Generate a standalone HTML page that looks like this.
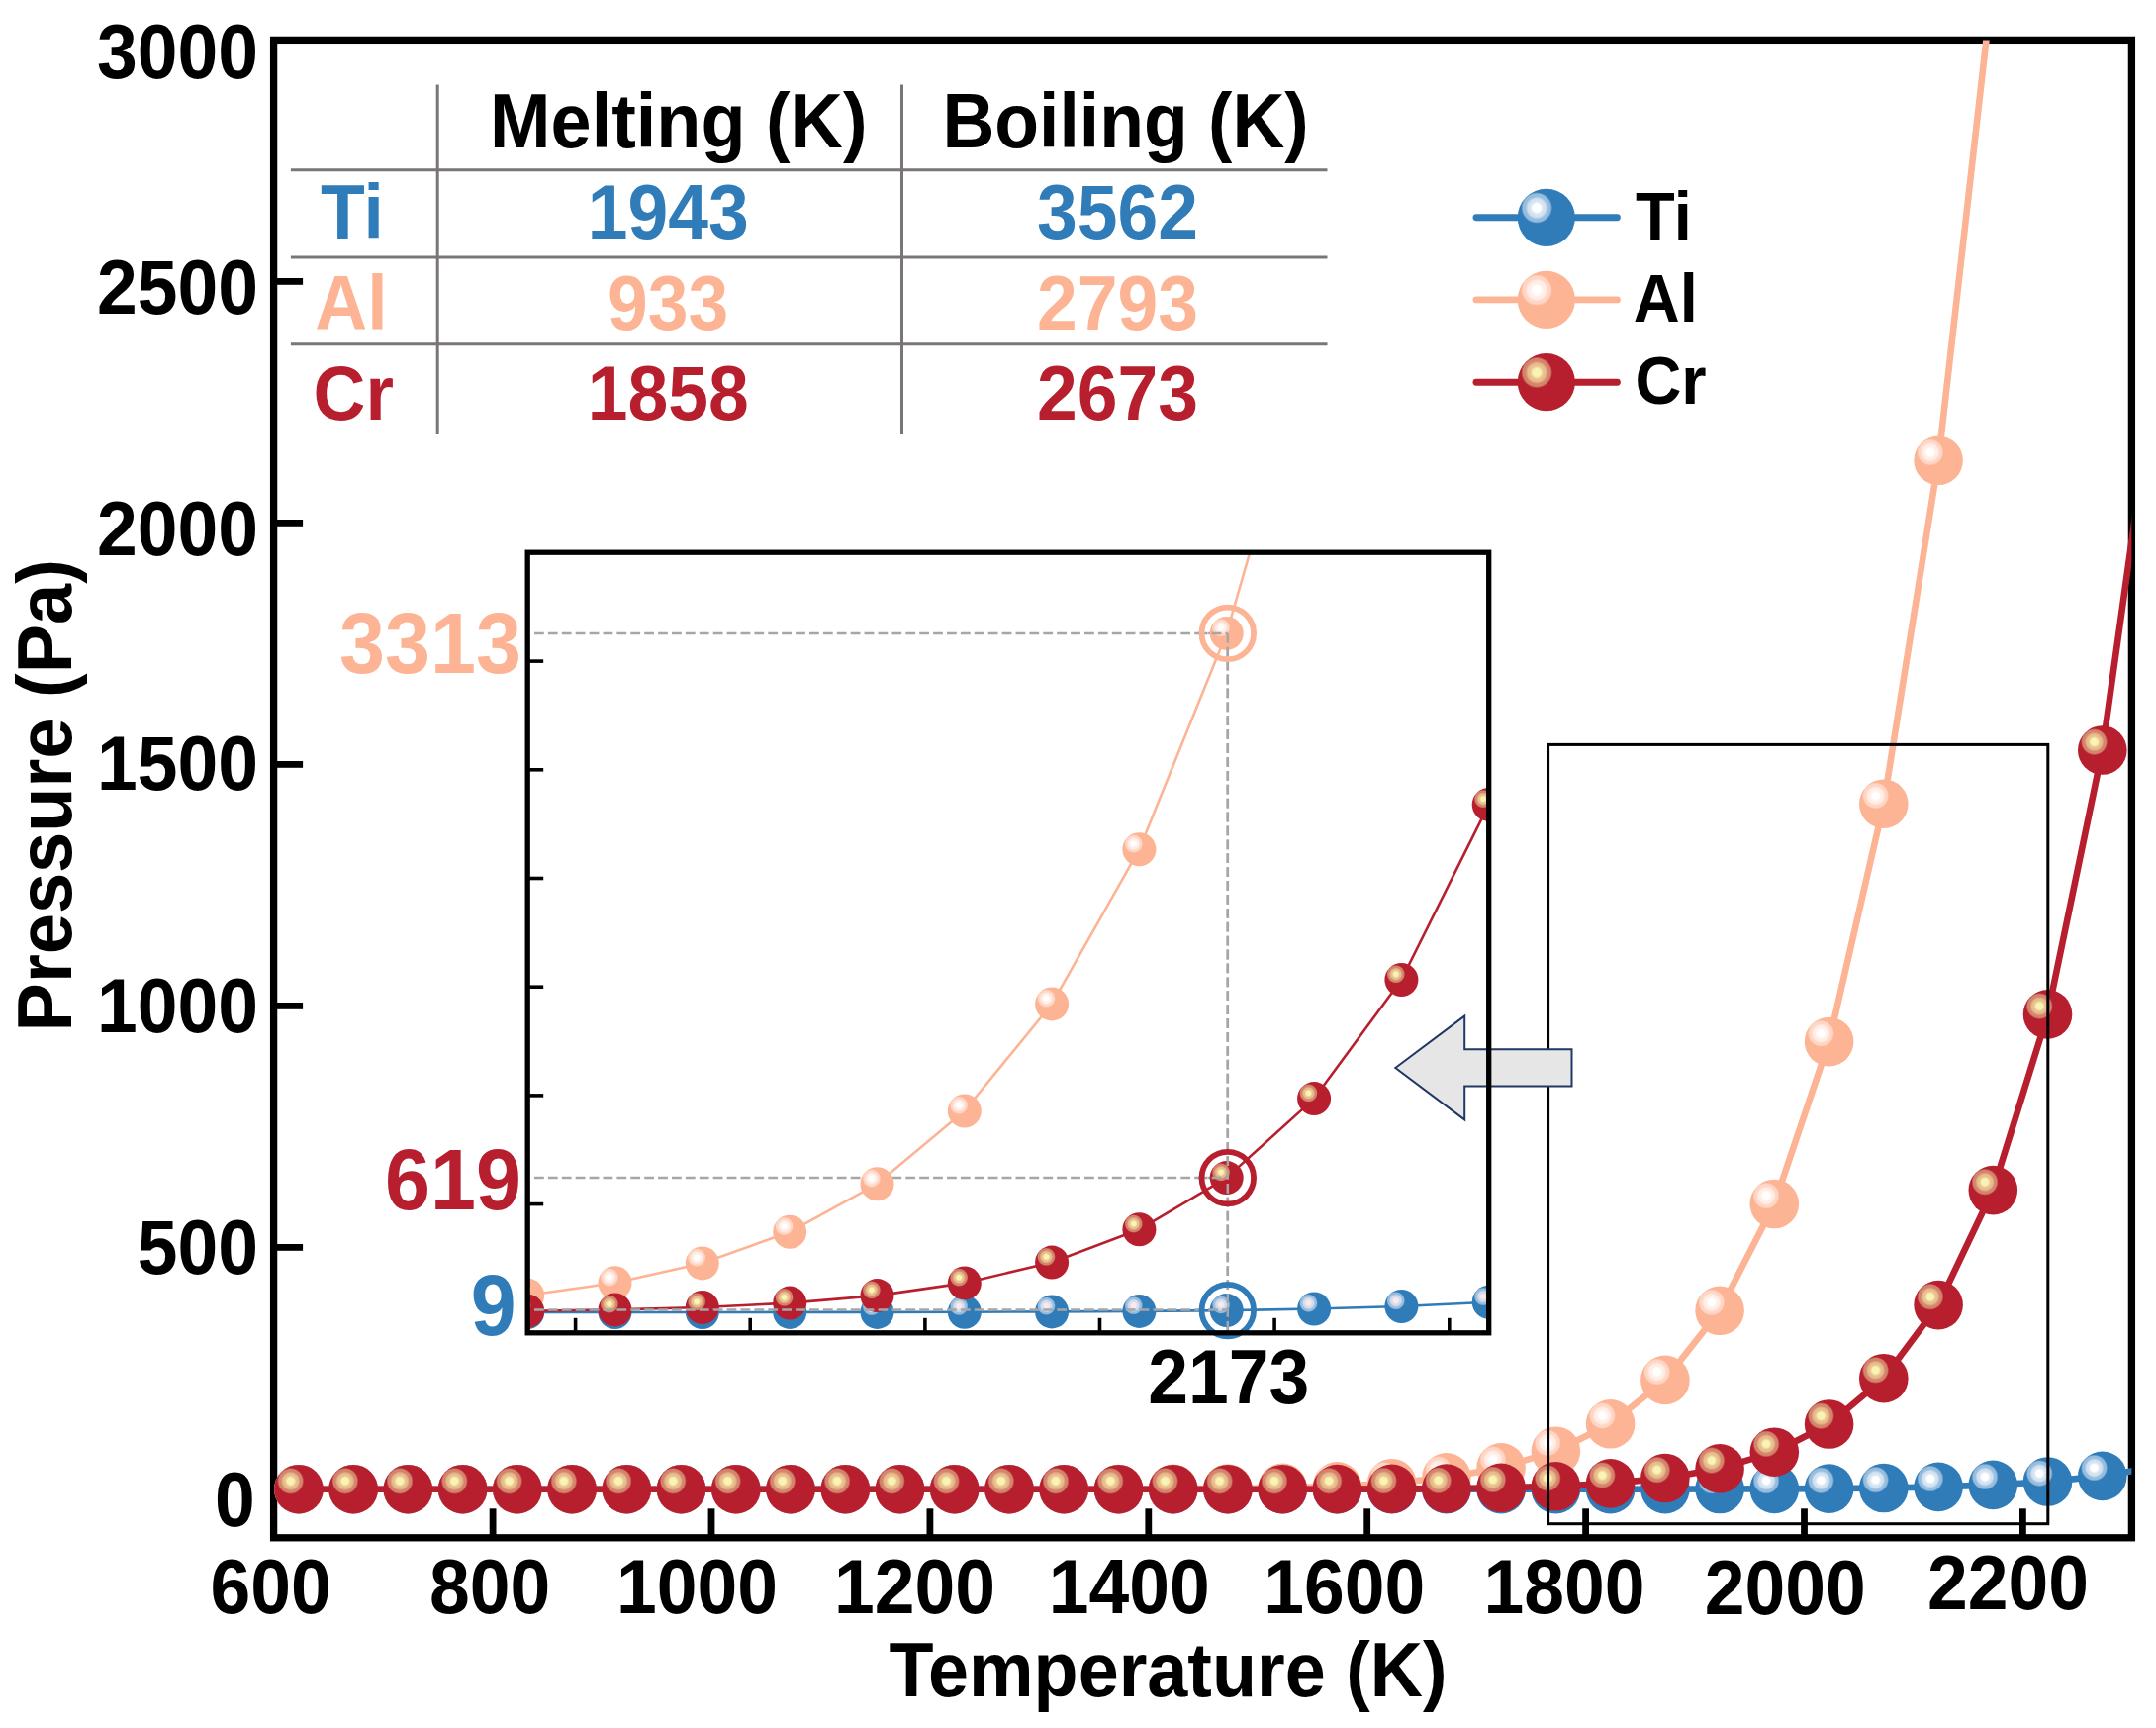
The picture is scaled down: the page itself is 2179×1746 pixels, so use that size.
<!DOCTYPE html>
<html lang="en"><head><meta charset="utf-8"><title>Vapour pressure of Ti, Al and Cr</title>
<style>html,body{margin:0;padding:0;background:#fff}body{width:2179px;height:1746px;overflow:hidden}svg{display:block;filter:blur(0.55px)}text{font-family:"Liberation Sans",Arial,Helvetica,sans-serif;font-weight:bold}</style></head><body>
<svg width="2179" height="1746" viewBox="0 0 2179 1746">
<defs>
<radialGradient id="gTi" cx="0.334" cy="0.332" r="0.272" fx="0.334" fy="0.332"><stop offset="0" stop-color="#ffffff"/><stop offset="0.24" stop-color="#ffffff"/><stop offset="0.44" stop-color="#d3e3f1"/><stop offset="0.56" stop-color="#d3e3f1"/><stop offset="0.74" stop-color="#96bcde"/><stop offset="0.88" stop-color="#96bcde"/><stop offset="1" stop-color="#2f7cb9"/></radialGradient>
<radialGradient id="gAl" cx="0.334" cy="0.332" r="0.272" fx="0.334" fy="0.332"><stop offset="0" stop-color="#ffffff"/><stop offset="0.24" stop-color="#ffffff"/><stop offset="0.44" stop-color="#ffeee7"/><stop offset="0.56" stop-color="#ffeee7"/><stop offset="0.74" stop-color="#fed6c5"/><stop offset="0.88" stop-color="#fed6c5"/><stop offset="1" stop-color="#fcb494"/></radialGradient>
<radialGradient id="gCr" cx="0.334" cy="0.332" r="0.272" fx="0.334" fy="0.332"><stop offset="0" stop-color="#f8f4b4"/><stop offset="0.24" stop-color="#f8f4b4"/><stop offset="0.44" stop-color="#e9bd8c"/><stop offset="0.56" stop-color="#e9bd8c"/><stop offset="0.74" stop-color="#d2846c"/><stop offset="0.88" stop-color="#d2846c"/><stop offset="1" stop-color="#b81f2e"/></radialGradient>
<radialGradient id="gTiI" cx="0.334" cy="0.332" r="0.272" fx="0.334" fy="0.332"><stop offset="0" stop-color="#fbeaea"/><stop offset="0.24" stop-color="#fbeaea"/><stop offset="0.44" stop-color="#d3dcec"/><stop offset="0.56" stop-color="#d3dcec"/><stop offset="0.74" stop-color="#96bcde"/><stop offset="0.88" stop-color="#96bcde"/><stop offset="1" stop-color="#2f7cb9"/></radialGradient>
<clipPath id="cm"><rect x="276.6" y="40.4" width="1877.8" height="1513.4"/></clipPath>
<clipPath id="ci"><rect x="533.2" y="558.2" width="971.5" height="788.6"/></clipPath>
</defs>
<rect width="2179" height="1746" fill="#ffffff"/>
<g stroke="#000" stroke-width="7.3" fill="none">
<rect x="276.6" y="40.4" width="1877.8" height="1513.4"/>
<g stroke-width="6.8">
<line x1="276.6" y1="1260.4" x2="306.1" y2="1260.4"/>
<line x1="276.6" y1="1016.4" x2="306.1" y2="1016.4"/>
<line x1="276.6" y1="772.4" x2="306.1" y2="772.4"/>
<line x1="276.6" y1="528.4" x2="306.1" y2="528.4"/>
<line x1="276.6" y1="284.4" x2="306.1" y2="284.4"/>
<line x1="498.1" y1="1553.8" x2="498.1" y2="1524.3"/>
<line x1="719.0" y1="1553.8" x2="719.0" y2="1524.3"/>
<line x1="939.9" y1="1553.8" x2="939.9" y2="1524.3"/>
<line x1="1160.8" y1="1553.8" x2="1160.8" y2="1524.3"/>
<line x1="1381.7" y1="1553.8" x2="1381.7" y2="1524.3"/>
<line x1="1602.6" y1="1553.8" x2="1602.6" y2="1524.3"/>
<line x1="1823.5" y1="1553.8" x2="1823.5" y2="1524.3"/>
<line x1="2044.4" y1="1553.8" x2="2044.4" y2="1524.3"/>
</g></g>
<g clip-path="url(#cm)">
<polyline fill="none" stroke="#2f7cb9" stroke-width="6.6" stroke-linejoin="round" points="301.9,1504.7 357.1,1504.7 412.3,1504.7 467.6,1504.7 522.8,1504.7 578.1,1504.7 633.3,1504.7 688.5,1504.7 743.8,1504.7 799.0,1504.7 854.3,1504.7 909.5,1504.7 964.7,1504.7 1020.0,1504.7 1075.2,1504.7 1130.5,1504.7 1185.7,1504.7 1240.9,1504.7 1296.2,1504.7 1351.4,1504.7 1406.7,1504.7 1461.9,1504.7 1517.1,1504.7 1572.4,1504.7 1627.6,1504.7 1682.9,1504.6 1738.1,1504.5 1793.3,1504.4 1848.6,1504.1 1903.8,1503.5 1959.1,1502.4 2014.3,1500.4 2069.5,1497.0 2124.8,1491.4 2180.0,1482.0 2235.3,1467.0"/>
<circle cx="301.9" cy="1504.7" r="24.8" fill="url(#gTi)"/>
<circle cx="357.1" cy="1504.7" r="24.8" fill="url(#gTi)"/>
<circle cx="412.3" cy="1504.7" r="24.8" fill="url(#gTi)"/>
<circle cx="467.6" cy="1504.7" r="24.8" fill="url(#gTi)"/>
<circle cx="522.8" cy="1504.7" r="24.8" fill="url(#gTi)"/>
<circle cx="578.1" cy="1504.7" r="24.8" fill="url(#gTi)"/>
<circle cx="633.3" cy="1504.7" r="24.8" fill="url(#gTi)"/>
<circle cx="688.5" cy="1504.7" r="24.8" fill="url(#gTi)"/>
<circle cx="743.8" cy="1504.7" r="24.8" fill="url(#gTi)"/>
<circle cx="799.0" cy="1504.7" r="24.8" fill="url(#gTi)"/>
<circle cx="854.3" cy="1504.7" r="24.8" fill="url(#gTi)"/>
<circle cx="909.5" cy="1504.7" r="24.8" fill="url(#gTi)"/>
<circle cx="964.7" cy="1504.7" r="24.8" fill="url(#gTi)"/>
<circle cx="1020.0" cy="1504.7" r="24.8" fill="url(#gTi)"/>
<circle cx="1075.2" cy="1504.7" r="24.8" fill="url(#gTi)"/>
<circle cx="1130.5" cy="1504.7" r="24.8" fill="url(#gTi)"/>
<circle cx="1185.7" cy="1504.7" r="24.8" fill="url(#gTi)"/>
<circle cx="1240.9" cy="1504.7" r="24.8" fill="url(#gTi)"/>
<circle cx="1296.2" cy="1504.7" r="24.8" fill="url(#gTi)"/>
<circle cx="1351.4" cy="1504.7" r="24.8" fill="url(#gTi)"/>
<circle cx="1406.7" cy="1504.7" r="24.8" fill="url(#gTi)"/>
<circle cx="1461.9" cy="1504.7" r="24.8" fill="url(#gTi)"/>
<circle cx="1517.1" cy="1504.7" r="24.8" fill="url(#gTi)"/>
<circle cx="1572.4" cy="1504.7" r="24.8" fill="url(#gTi)"/>
<circle cx="1627.6" cy="1504.7" r="24.8" fill="url(#gTi)"/>
<circle cx="1682.9" cy="1504.6" r="24.8" fill="url(#gTi)"/>
<circle cx="1738.1" cy="1504.5" r="24.8" fill="url(#gTi)"/>
<circle cx="1793.3" cy="1504.4" r="24.8" fill="url(#gTi)"/>
<circle cx="1848.6" cy="1504.1" r="24.8" fill="url(#gTi)"/>
<circle cx="1903.8" cy="1503.5" r="24.8" fill="url(#gTi)"/>
<circle cx="1959.1" cy="1502.4" r="24.8" fill="url(#gTi)"/>
<circle cx="2014.3" cy="1500.4" r="24.8" fill="url(#gTi)"/>
<circle cx="2069.5" cy="1497.0" r="24.8" fill="url(#gTi)"/>
<circle cx="2124.8" cy="1491.4" r="24.8" fill="url(#gTi)"/>
<circle cx="2180.0" cy="1482.0" r="24.8" fill="url(#gTi)"/>
<circle cx="2235.3" cy="1467.0" r="24.8" fill="url(#gTi)"/>
</g>
<g clip-path="url(#cm)">
<polyline fill="none" stroke="#fcb494" stroke-width="6.6" stroke-linejoin="round" points="301.9,1504.7 357.1,1504.7 412.3,1504.7 467.6,1504.7 522.8,1504.7 578.1,1504.7 633.3,1504.7 688.5,1504.7 743.8,1504.7 799.0,1504.7 854.3,1504.7 909.5,1504.7 964.7,1504.7 1020.0,1504.7 1075.2,1504.7 1130.5,1504.6 1185.7,1504.4 1240.9,1504.1 1296.2,1503.4 1351.4,1501.9 1406.7,1498.7 1461.9,1492.9 1517.1,1482.9 1572.4,1466.2 1627.6,1438.8 1682.9,1394.4 1738.1,1324.3 1793.3,1216.5 1848.6,1052.6 1903.8,812.2 1959.1,465.3 2014.3,-20.1 2069.5,-703.3 2124.8,-1641.4 2180.0,-2910.4 2235.3,-4603.6"/>
<circle cx="301.9" cy="1504.7" r="24.8" fill="url(#gAl)"/>
<circle cx="357.1" cy="1504.7" r="24.8" fill="url(#gAl)"/>
<circle cx="412.3" cy="1504.7" r="24.8" fill="url(#gAl)"/>
<circle cx="467.6" cy="1504.7" r="24.8" fill="url(#gAl)"/>
<circle cx="522.8" cy="1504.7" r="24.8" fill="url(#gAl)"/>
<circle cx="578.1" cy="1504.7" r="24.8" fill="url(#gAl)"/>
<circle cx="633.3" cy="1504.7" r="24.8" fill="url(#gAl)"/>
<circle cx="688.5" cy="1504.7" r="24.8" fill="url(#gAl)"/>
<circle cx="743.8" cy="1504.7" r="24.8" fill="url(#gAl)"/>
<circle cx="799.0" cy="1504.7" r="24.8" fill="url(#gAl)"/>
<circle cx="854.3" cy="1504.7" r="24.8" fill="url(#gAl)"/>
<circle cx="909.5" cy="1504.7" r="24.8" fill="url(#gAl)"/>
<circle cx="964.7" cy="1504.7" r="24.8" fill="url(#gAl)"/>
<circle cx="1020.0" cy="1504.7" r="24.8" fill="url(#gAl)"/>
<circle cx="1075.2" cy="1504.7" r="24.8" fill="url(#gAl)"/>
<circle cx="1130.5" cy="1504.6" r="24.8" fill="url(#gAl)"/>
<circle cx="1185.7" cy="1504.4" r="24.8" fill="url(#gAl)"/>
<circle cx="1240.9" cy="1504.1" r="24.8" fill="url(#gAl)"/>
<circle cx="1296.2" cy="1503.4" r="24.8" fill="url(#gAl)"/>
<circle cx="1351.4" cy="1501.9" r="24.8" fill="url(#gAl)"/>
<circle cx="1406.7" cy="1498.7" r="24.8" fill="url(#gAl)"/>
<circle cx="1461.9" cy="1492.9" r="24.8" fill="url(#gAl)"/>
<circle cx="1517.1" cy="1482.9" r="24.8" fill="url(#gAl)"/>
<circle cx="1572.4" cy="1466.2" r="24.8" fill="url(#gAl)"/>
<circle cx="1627.6" cy="1438.8" r="24.8" fill="url(#gAl)"/>
<circle cx="1682.9" cy="1394.4" r="24.8" fill="url(#gAl)"/>
<circle cx="1738.1" cy="1324.3" r="24.8" fill="url(#gAl)"/>
<circle cx="1793.3" cy="1216.5" r="24.8" fill="url(#gAl)"/>
<circle cx="1848.6" cy="1052.6" r="24.8" fill="url(#gAl)"/>
<circle cx="1903.8" cy="812.2" r="24.8" fill="url(#gAl)"/>
<circle cx="1959.1" cy="465.3" r="24.8" fill="url(#gAl)"/>
<circle cx="2014.3" cy="-20.1" r="24.8" fill="url(#gAl)"/>
</g>
<g clip-path="url(#cm)">
<polyline fill="none" stroke="#b81f2e" stroke-width="6.6" stroke-linejoin="round" points="301.9,1504.7 357.1,1504.7 412.3,1504.7 467.6,1504.7 522.8,1504.7 578.1,1504.7 633.3,1504.7 688.5,1504.7 743.8,1504.7 799.0,1504.7 854.3,1504.7 909.5,1504.7 964.7,1504.7 1020.0,1504.7 1075.2,1504.7 1130.5,1504.7 1185.7,1504.7 1240.9,1504.7 1296.2,1504.7 1351.4,1504.6 1406.7,1504.4 1461.9,1504.1 1517.1,1503.3 1572.4,1501.8 1627.6,1498.9 1682.9,1493.5 1738.1,1483.9 1793.3,1467.2 1848.6,1439.0 1903.8,1392.7 1959.1,1318.6 2014.3,1202.6 2069.5,1024.9 2124.8,758.0 2180.0,364.6 2235.3,-205.5"/>
<circle cx="301.9" cy="1504.7" r="24.8" fill="url(#gCr)"/>
<circle cx="357.1" cy="1504.7" r="24.8" fill="url(#gCr)"/>
<circle cx="412.3" cy="1504.7" r="24.8" fill="url(#gCr)"/>
<circle cx="467.6" cy="1504.7" r="24.8" fill="url(#gCr)"/>
<circle cx="522.8" cy="1504.7" r="24.8" fill="url(#gCr)"/>
<circle cx="578.1" cy="1504.7" r="24.8" fill="url(#gCr)"/>
<circle cx="633.3" cy="1504.7" r="24.8" fill="url(#gCr)"/>
<circle cx="688.5" cy="1504.7" r="24.8" fill="url(#gCr)"/>
<circle cx="743.8" cy="1504.7" r="24.8" fill="url(#gCr)"/>
<circle cx="799.0" cy="1504.7" r="24.8" fill="url(#gCr)"/>
<circle cx="854.3" cy="1504.7" r="24.8" fill="url(#gCr)"/>
<circle cx="909.5" cy="1504.7" r="24.8" fill="url(#gCr)"/>
<circle cx="964.7" cy="1504.7" r="24.8" fill="url(#gCr)"/>
<circle cx="1020.0" cy="1504.7" r="24.8" fill="url(#gCr)"/>
<circle cx="1075.2" cy="1504.7" r="24.8" fill="url(#gCr)"/>
<circle cx="1130.5" cy="1504.7" r="24.8" fill="url(#gCr)"/>
<circle cx="1185.7" cy="1504.7" r="24.8" fill="url(#gCr)"/>
<circle cx="1240.9" cy="1504.7" r="24.8" fill="url(#gCr)"/>
<circle cx="1296.2" cy="1504.7" r="24.8" fill="url(#gCr)"/>
<circle cx="1351.4" cy="1504.6" r="24.8" fill="url(#gCr)"/>
<circle cx="1406.7" cy="1504.4" r="24.8" fill="url(#gCr)"/>
<circle cx="1461.9" cy="1504.1" r="24.8" fill="url(#gCr)"/>
<circle cx="1517.1" cy="1503.3" r="24.8" fill="url(#gCr)"/>
<circle cx="1572.4" cy="1501.8" r="24.8" fill="url(#gCr)"/>
<circle cx="1627.6" cy="1498.9" r="24.8" fill="url(#gCr)"/>
<circle cx="1682.9" cy="1493.5" r="24.8" fill="url(#gCr)"/>
<circle cx="1738.1" cy="1483.9" r="24.8" fill="url(#gCr)"/>
<circle cx="1793.3" cy="1467.2" r="24.8" fill="url(#gCr)"/>
<circle cx="1848.6" cy="1439.0" r="24.8" fill="url(#gCr)"/>
<circle cx="1903.8" cy="1392.7" r="24.8" fill="url(#gCr)"/>
<circle cx="1959.1" cy="1318.6" r="24.8" fill="url(#gCr)"/>
<circle cx="2014.3" cy="1202.6" r="24.8" fill="url(#gCr)"/>
<circle cx="2069.5" cy="1024.9" r="24.8" fill="url(#gCr)"/>
<circle cx="2124.8" cy="758.0" r="24.8" fill="url(#gCr)"/>
<circle cx="2180.0" cy="364.6" r="24.8" fill="url(#gCr)"/>
<circle cx="2235.3" cy="-205.5" r="24.8" fill="url(#gCr)"/>
</g>
<text transform="translate(261.0,79.0) scale(0.948,1)" font-size="77.3" text-anchor="end" fill="#000">3000</text>
<text transform="translate(261.0,317.2) scale(0.948,1)" font-size="77.3" text-anchor="end" fill="#000">2500</text>
<text transform="translate(261.0,560.7) scale(0.948,1)" font-size="77.3" text-anchor="end" fill="#000">2000</text>
<text transform="translate(261.0,798.2) scale(0.948,1)" font-size="77.3" text-anchor="end" fill="#000">1500</text>
<text transform="translate(261.0,1042.7) scale(0.948,1)" font-size="77.3" text-anchor="end" fill="#000">1000</text>
<text transform="translate(261.0,1286.5) scale(0.948,1)" font-size="77.3" text-anchor="end" fill="#000">500</text>
<text transform="translate(257.8,1542.4) scale(0.948,1)" font-size="77.3" text-anchor="end" fill="#000">0</text>
<text transform="translate(273.6,1630.0) scale(0.948,1)" font-size="77.3" text-anchor="middle" fill="#000">600</text>
<text transform="translate(495.1,1630.0) scale(0.948,1)" font-size="77.3" text-anchor="middle" fill="#000">800</text>
<text transform="translate(704.6,1630.0) scale(0.948,1)" font-size="77.3" text-anchor="middle" fill="#000">1000</text>
<text transform="translate(924.4,1630.0) scale(0.948,1)" font-size="77.3" text-anchor="middle" fill="#000">1200</text>
<text transform="translate(1141.3,1630.0) scale(0.948,1)" font-size="77.3" text-anchor="middle" fill="#000">1400</text>
<text transform="translate(1358.7,1630.0) scale(0.948,1)" font-size="77.3" text-anchor="middle" fill="#000">1600</text>
<text transform="translate(1580.9,1630.0) scale(0.948,1)" font-size="77.3" text-anchor="middle" fill="#000">1800</text>
<text transform="translate(1804.2,1631.0) scale(0.948,1)" font-size="77.3" text-anchor="middle" fill="#000">2000</text>
<text transform="translate(2029.5,1626.3) scale(0.948,1)" font-size="77.3" text-anchor="middle" fill="#000">2200</text>
<text transform="translate(1180.5,1713.6) scale(0.948,1)" font-size="77.8" text-anchor="middle" fill="#000">Temperature (K)</text>
<text transform="translate(72.2,803.8) rotate(-90) scale(0.948,1)" font-size="78.1" text-anchor="middle" fill="#000">Pressure (Pa)</text>
<g stroke="#7a7676" stroke-width="3.0" fill="none">
<line x1="442.2" y1="85.6" x2="442.2" y2="439"/>
<line x1="911.5" y1="85.6" x2="911.5" y2="439"/>
<line x1="293.9" y1="171.8" x2="1341.5" y2="171.8"/>
<line x1="293.9" y1="260.1" x2="1341.5" y2="260.1"/>
<line x1="293.9" y1="347.8" x2="1341.5" y2="347.8"/>
</g>
<text transform="translate(685.8,148.5) scale(0.948,1)" font-size="77.9" text-anchor="middle" fill="#000">Melting (K)</text>
<text transform="translate(1137.6,148.5) scale(0.948,1)" font-size="77.3" text-anchor="middle" fill="#000">Boiling (K)</text>
<text transform="translate(356.0,240.9) scale(0.948,1)" font-size="77.3" text-anchor="middle" fill="#2f7cb9">Ti</text>
<text transform="translate(675.2,240.9) scale(0.948,1)" font-size="77.3" text-anchor="middle" fill="#2f7cb9">1943</text>
<text transform="translate(1129.5,240.9) scale(0.948,1)" font-size="77.3" text-anchor="middle" fill="#2f7cb9">3562</text>
<text transform="translate(355.0,332.5) scale(0.948,1)" font-size="77.3" text-anchor="middle" fill="#fcb494">Al</text>
<text transform="translate(675.2,332.5) scale(0.948,1)" font-size="77.3" text-anchor="middle" fill="#fcb494">933</text>
<text transform="translate(1129.5,332.5) scale(0.948,1)" font-size="77.3" text-anchor="middle" fill="#fcb494">2793</text>
<text transform="translate(357.2,424.0) scale(0.948,1)" font-size="77.3" text-anchor="middle" fill="#b81f2e">Cr</text>
<text transform="translate(675.2,424.0) scale(0.948,1)" font-size="77.3" text-anchor="middle" fill="#b81f2e">1858</text>
<text transform="translate(1129.5,424.0) scale(0.948,1)" font-size="77.3" text-anchor="middle" fill="#b81f2e">2673</text>
<line x1="1492" y1="219.8" x2="1634.4" y2="219.8" stroke="#2f7cb9" stroke-width="6.9" stroke-linecap="round"/>
<circle cx="1562.8" cy="219.8" r="29.1" fill="url(#gTi)"/>
<text transform="translate(1653.1,241.7) scale(0.948,1)" font-size="68.6" text-anchor="start" fill="#000">Ti</text>
<line x1="1492" y1="302.9" x2="1634.4" y2="302.9" stroke="#fcb494" stroke-width="6.9" stroke-linecap="round"/>
<circle cx="1562.8" cy="302.9" r="29.1" fill="url(#gAl)"/>
<text transform="translate(1650.8,325.0) scale(0.948,1)" font-size="68.6" text-anchor="start" fill="#000">Al</text>
<line x1="1492" y1="386.2" x2="1634.4" y2="386.2" stroke="#b81f2e" stroke-width="6.9" stroke-linecap="round"/>
<circle cx="1562.8" cy="386.2" r="29.1" fill="url(#gCr)"/>
<text transform="translate(1652.4,408.1) scale(0.948,1)" font-size="68.6" text-anchor="start" fill="#000">Cr</text>
<rect x="1564.6" y="752.4" width="505.2" height="787.3" fill="none" stroke="#000" stroke-width="3.0"/>
<path d="M1410.3,1079 L1480.2,1026.6 L1480.2,1060.2 L1588.5,1060.2 L1588.5,1097.6 L1480.2,1097.6 L1480.2,1131.4 Z" fill="#e7e6e6" stroke="#203864" stroke-width="2" stroke-linejoin="miter"/>
<g clip-path="url(#ci)">
<g stroke="#a6a6a6" stroke-width="2.5" stroke-dasharray="9.8 4.1" fill="none">
<line x1="540.0" y1="639.9" x2="1240.8" y2="639.9"/>
<line x1="540.0" y1="1190.1" x2="1240.8" y2="1190.1"/>
<line x1="1240.8" y1="639.9" x2="1240.8" y2="1346.8"/>
</g>
</g>
<g clip-path="url(#ci)">
<polyline fill="none" stroke="#2f7cb9" stroke-width="2.6" stroke-linejoin="round" points="533.2,1326.0 621.5,1326.0 709.8,1326.0 798.2,1325.9 886.5,1325.9 974.8,1325.7 1063.1,1325.4 1151.4,1324.9 1239.7,1324.1 1328.1,1322.5 1416.4,1320.0 1504.7,1315.8 1593.0,1309.0"/>
<circle cx="533.2" cy="1326.0" r="17.0" fill="url(#gTiI)"/>
<circle cx="621.5" cy="1326.0" r="17.0" fill="url(#gTiI)"/>
<circle cx="709.8" cy="1326.0" r="17.0" fill="url(#gTiI)"/>
<circle cx="798.2" cy="1325.9" r="17.0" fill="url(#gTiI)"/>
<circle cx="886.5" cy="1325.9" r="17.0" fill="url(#gTiI)"/>
<circle cx="974.8" cy="1325.7" r="17.0" fill="url(#gTiI)"/>
<circle cx="1063.1" cy="1325.4" r="17.0" fill="url(#gTiI)"/>
<circle cx="1151.4" cy="1324.9" r="17.0" fill="url(#gTiI)"/>
<circle cx="1239.7" cy="1324.1" r="17.0" fill="url(#gTiI)"/>
<circle cx="1328.1" cy="1322.5" r="17.0" fill="url(#gTiI)"/>
<circle cx="1416.4" cy="1320.0" r="17.0" fill="url(#gTiI)"/>
<circle cx="1504.7" cy="1315.8" r="17.0" fill="url(#gTiI)"/>
<circle cx="1593.0" cy="1309.0" r="17.0" fill="url(#gTiI)"/>
</g>
<g clip-path="url(#ci)">
<polyline fill="none" stroke="#fcb494" stroke-width="2.6" stroke-linejoin="round" points="533.2,1308.7 621.5,1296.3 709.8,1276.4 798.2,1244.8 886.5,1196.3 974.8,1122.5 1063.1,1014.4 1151.4,858.3 1239.7,639.9 1328.1,332.4 1416.4,-89.7 1504.7,-660.8 1593.0,-1422.8"/>
<circle cx="533.2" cy="1308.7" r="17.0" fill="url(#gAl)"/>
<circle cx="621.5" cy="1296.3" r="17.0" fill="url(#gAl)"/>
<circle cx="709.8" cy="1276.4" r="17.0" fill="url(#gAl)"/>
<circle cx="798.2" cy="1244.8" r="17.0" fill="url(#gAl)"/>
<circle cx="886.5" cy="1196.3" r="17.0" fill="url(#gAl)"/>
<circle cx="974.8" cy="1122.5" r="17.0" fill="url(#gAl)"/>
<circle cx="1063.1" cy="1014.4" r="17.0" fill="url(#gAl)"/>
<circle cx="1151.4" cy="858.3" r="17.0" fill="url(#gAl)"/>
<circle cx="1239.7" cy="639.9" r="17.0" fill="url(#gAl)"/>
<circle cx="1328.1" cy="332.4" r="17.0" fill="url(#gAl)"/>
<circle cx="1416.4" cy="-89.7" r="17.0" fill="url(#gAl)"/>
</g>
<g clip-path="url(#ci)">
<polyline fill="none" stroke="#b81f2e" stroke-width="2.6" stroke-linejoin="round" points="533.2,1324.7 621.5,1323.4 709.8,1321.0 798.2,1316.6 886.5,1309.1 974.8,1296.4 1063.1,1275.6 1151.4,1242.3 1239.7,1190.1 1328.1,1110.1 1416.4,990.0 1504.7,812.9 1593.0,556.4"/>
<circle cx="533.2" cy="1324.7" r="17.0" fill="url(#gCr)"/>
<circle cx="621.5" cy="1323.4" r="17.0" fill="url(#gCr)"/>
<circle cx="709.8" cy="1321.0" r="17.0" fill="url(#gCr)"/>
<circle cx="798.2" cy="1316.6" r="17.0" fill="url(#gCr)"/>
<circle cx="886.5" cy="1309.1" r="17.0" fill="url(#gCr)"/>
<circle cx="974.8" cy="1296.4" r="17.0" fill="url(#gCr)"/>
<circle cx="1063.1" cy="1275.6" r="17.0" fill="url(#gCr)"/>
<circle cx="1151.4" cy="1242.3" r="17.0" fill="url(#gCr)"/>
<circle cx="1239.7" cy="1190.1" r="17.0" fill="url(#gCr)"/>
<circle cx="1328.1" cy="1110.1" r="17.0" fill="url(#gCr)"/>
<circle cx="1416.4" cy="990.0" r="17.0" fill="url(#gCr)"/>
<circle cx="1504.7" cy="812.9" r="17.0" fill="url(#gCr)"/>
<circle cx="1593.0" cy="556.4" r="17.0" fill="url(#gCr)"/>
</g>
<g clip-path="url(#ci)" stroke="#a6a6a6" stroke-width="2.5" stroke-dasharray="9.8 4.1" fill="none">
<line x1="540.0" y1="1323.6" x2="1240.8" y2="1323.6"/>
<line x1="1240.8" y1="639.9" x2="1240.8" y2="1346.8"/>
<line x1="1210.8" y1="1190.1" x2="1240.8" y2="1190.1"/>
<line x1="1210.8" y1="639.9" x2="1240.8" y2="639.9"/>
</g>
<circle cx="1240.8" cy="1324.1" r="26.3" fill="none" stroke="#2f7cb9" stroke-width="5.8"/>
<circle cx="1240.8" cy="639.9" r="26.3" fill="none" stroke="#fcb494" stroke-width="5.8"/>
<circle cx="1240.8" cy="1190.1" r="26.3" fill="none" stroke="#b81f2e" stroke-width="5.8"/>
<g stroke="#000" fill="none">
<rect x="533.2" y="558.2" width="971.5" height="788.6" stroke-width="5.3"/>
<g stroke-width="3.6">
<line x1="533.2" y1="1216.6" x2="549.2" y2="1216.6"/>
<line x1="533.2" y1="1106.9" x2="549.2" y2="1106.9"/>
<line x1="533.2" y1="997.2" x2="549.2" y2="997.2"/>
<line x1="533.2" y1="887.5" x2="549.2" y2="887.5"/>
<line x1="533.2" y1="777.8" x2="549.2" y2="777.8"/>
<line x1="533.2" y1="668.1" x2="549.2" y2="668.1"/>
<line x1="581.6" y1="1346.8" x2="581.6" y2="1331.8"/>
<line x1="758.2" y1="1346.8" x2="758.2" y2="1331.8"/>
<line x1="934.9" y1="1346.8" x2="934.9" y2="1331.8"/>
<line x1="1111.5" y1="1346.8" x2="1111.5" y2="1331.8"/>
<line x1="1288.1" y1="1346.8" x2="1288.1" y2="1331.8"/>
<line x1="1464.8" y1="1346.8" x2="1464.8" y2="1331.8"/>
</g></g>
<text transform="translate(527.0,679.6) scale(0.948,1)" font-size="87.2" text-anchor="end" fill="#fcb494">3313</text>
<text transform="translate(527.0,1222.0) scale(0.948,1)" font-size="87.2" text-anchor="end" fill="#b81f2e">619</text>
<text transform="translate(521.8,1348.5) scale(0.948,1)" font-size="87.2" text-anchor="end" fill="#2f7cb9">9</text>
<text transform="translate(1241.8,1417.5) scale(0.948,1)" font-size="77.3" text-anchor="middle" fill="#000">2173</text>
</svg></body></html>
